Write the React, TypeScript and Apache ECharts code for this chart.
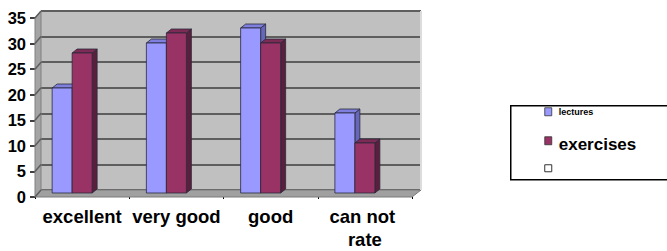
import React, { useEffect, useRef } from "react";
import * as echarts from "echarts";

const categories = ["excellent", "very good", "good", "can not rate"];
const lectures = [21, 30, 33, 16];
const exercises = [28, 32, 30, 10];
const yTickValues = [0, 5, 10, 15, 20, 25, 30, 35];
const seriesNames = ["lectures", "exercises"];

const FONT = "'Liberation Sans', Arial, sans-serif";
const DEPTH_LX = 6;
const DEPTH_RX = 9;
const DEPTH_Y = 7;

function barRenderer(side: number, front: string, top: string, sideC: string) {
  return (params: any, api: any) => {
    const cat = api.value(0);
    const v = api.value(1);
    const p = api.coord([cat, v]);
    const base = api.coord([cat, 0]);
    const bw = 20;
    const x0 = side < 0 ? p[0] - bw : p[0];
    const x1 = x0 + bw;
    const yT = p[1];
    const yB = base[1];
    const dx = 5;
    const dy = -4;
    const stroke = "#2a2a3a";
    const lw = 0.8;
    return {
      type: "group",
      children: [
        {
          type: "polygon",
          shape: { points: [[x1, yB], [x1 + dx, yB + dy], [x1 + dx, yT + dy], [x1, yT]] },
          style: { fill: sideC, stroke, lineWidth: lw },
        },
        {
          type: "polygon",
          shape: { points: [[x0, yT], [x0 + dx, yT + dy], [x1 + dx, yT + dy], [x1, yT]] },
          style: { fill: top, stroke, lineWidth: lw },
        },
        {
          type: "rect",
          shape: { x: x0, y: yT, width: bw, height: yB - yT },
          style: { fill: front, stroke, lineWidth: lw },
        },
      ],
    };
  };
}

function wallRenderer(params: any, api: any) {
  const cs = params.coordSys;
  const x = cs.x, y = cs.y, w = cs.width, h = cs.height;
  const children: any[] = [];
  children.push({
    type: "polygon",
    shape: { points: [[x, y], [x, y + h], [x - DEPTH_LX, y + h + DEPTH_Y], [x - DEPTH_LX, y + DEPTH_Y]] },
    style: { fill: "#a4a4a4", stroke: "#808080", lineWidth: 1 },
  });
  children.push({
    type: "polygon",
    shape: { points: [[x, y + h], [x + w, y + h], [x + w - DEPTH_RX, y + h + DEPTH_Y], [x - DEPTH_LX, y + h + DEPTH_Y]] },
    style: { fill: "#a0a0a0", stroke: "#7a7a7a", lineWidth: 1 },
  });
  yTickValues.forEach((v) => {
    const yy = api.coord([0, v])[1];
    children.push({
      type: "line",
      shape: { x1: x, y1: yy, x2: x - DEPTH_LX, y2: yy + DEPTH_Y },
      style: { stroke: "#5e5e5e", lineWidth: 1.5 },
    });
  });
  children.push({
    type: "line",
    shape: { x1: x + w, y1: y, x2: x + w, y2: y + h },
    style: { stroke: "#dcdcdc", lineWidth: 2 },
  });
  return { type: "group", children };
}

export default function App() {
  const ref = useRef<HTMLDivElement>(null);
  useEffect(() => {
    const chart = echarts.init(ref.current!, null, { renderer: "svg" });
    const yMax = yTickValues[yTickValues.length - 1];
    const yStep = yTickValues[1] - yTickValues[0];
    chart.setOption({
      animation: false,
      backgroundColor: "#ffffff",
      grid: [
        { left: 41, top: 11, width: 380, height: 179, show: true, backgroundColor: "#c0c0c0", borderWidth: 0 },
        { left: 35, top: 18, width: 377, height: 179 },
        { left: 25, top: 18, width: 377, height: 175 },
      ],
      xAxis: [
        { gridIndex: 0, type: "category", data: categories, show: false },
        {
          gridIndex: 1,
          type: "category",
          data: categories,
          axisLine: { show: false },
          axisTick: { show: true, length: 2, lineStyle: { color: "#000" } },
          axisLabel: {
            color: "#000",
            fontFamily: FONT,
            fontWeight: "bold",
            fontSize: 18.5,
            margin: 8,
            width: 95,
            overflow: "break",
            lineHeight: 23,
            interval: 0,
          },
        },
        {
          gridIndex: 2,
          type: "category",
          data: categories,
          show: false,
        },
      ],
      yAxis: [
        {
          gridIndex: 0,
          type: "value",
          min: 0,
          max: yMax,
          interval: yStep,
          axisLine: { show: false },
          axisTick: { show: false },
          axisLabel: { show: false },
          splitLine: { show: true, lineStyle: { color: "#5e5e5e", width: 2 } },
        },
        {
          gridIndex: 1,
          type: "value",
          min: 0,
          max: yMax,
          interval: yStep,
          axisLine: { show: false },
          axisTick: { show: true, length: 5, lineStyle: { color: "#000", width: 1.5 } },
          axisLabel: { color: "#000", fontFamily: FONT, fontWeight: "bold", fontSize: 16.5, margin: 9 },
          splitLine: { show: false },
        },
        {
          gridIndex: 2,
          type: "value",
          min: 0,
          max: yMax,
          interval: yStep,
          show: false,
          splitLine: { show: false },
        },
      ],
      series: [
        {
          type: "custom",
          name: "walls",
          xAxisIndex: 0,
          yAxisIndex: 0,
          data: [[0, 0]],
          renderItem: wallRenderer,
          silent: true,
          z: 1,
        },
        {
          type: "custom",
          name: seriesNames[0],
          xAxisIndex: 2,
          yAxisIndex: 2,
          encode: { x: 0, y: 1 },
          data: categories.map((_, i) => [i, lectures[i]]),
          renderItem: barRenderer(-1, "#9999ff", "#7f7fdd", "#6666bb"),
          z: 2,
        },
        {
          type: "custom",
          name: seriesNames[1],
          xAxisIndex: 2,
          yAxisIndex: 2,
          encode: { x: 0, y: 1 },
          data: categories.map((_, i) => [i, exercises[i]]),
          renderItem: barRenderer(1, "#993366", "#7d2a54", "#5c1e3d"),
          z: 3,
        },
      ],
      graphic: [
        {
          type: "group",
          left: 510,
          top: 105,
          children: [
            { type: "rect", shape: { x: 0, y: 0, width: 170, height: 74 }, style: { fill: "#fff", stroke: "#000", lineWidth: 1.5 } },
            { type: "rect", shape: { x: 34, y: 2, width: 7, height: 8 }, style: { fill: "#9999ff", stroke: "#333", lineWidth: 0.8 } },
            { type: "text", x: 48, y: 2, style: { text: seriesNames[0], font: `bold 9px ${FONT}`, fill: "#000" } },
            { type: "rect", shape: { x: 34, y: 31, width: 7, height: 8 }, style: { fill: "#993366", stroke: "#333", lineWidth: 0.8 } },
            { type: "text", x: 48, y: 30, style: { text: seriesNames[1], font: `bold 17px ${FONT}`, fill: "#000" } },
            { type: "rect", shape: { x: 34, y: 59, width: 7, height: 7 }, style: { fill: "none", stroke: "#333", lineWidth: 1 } },
          ],
        },
      ],
    });
    return () => chart.dispose();
  }, []);
  return <div ref={ref} style={{ position: "fixed", left: 0, top: 0, width: 667, height: 251 }} />;
}
